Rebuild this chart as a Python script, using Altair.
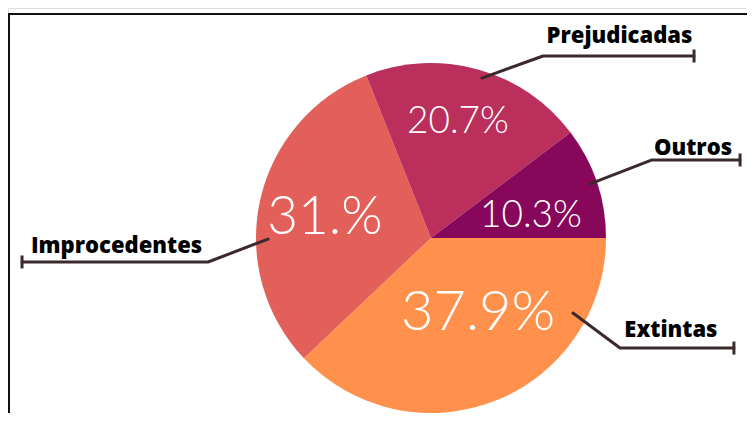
import math
import altair as alt
import pandas as pd

# ---- data ----
categories = ["Extintas", "Improcedentes", "Prejudicadas", "Outros"]
values = [37.9, 31.0, 20.7, 10.3]
pct_labels = ["37.9%", "31.%", "20.7%", "10.3%"]
colors = ["#FF914D", "#E35F59", "#BA2F5B", "#87085A"]

# ---- layout (units: pie radius, origin at pie centre) ----
W, H = 739, 405
CX, CY, R = 423, 230, 175
x_dom = [-CX / R, (W - CX) / R]
y_dom = [-(H - CY) / R, CY / R]

pct_x = [0.269, -0.606, 0.154, 0.571]
pct_y = [-0.526, 0.023, 0.600, 0.063]
pct_size = [56, 53, 37, 37]

lead_anchor = [(0.811, -0.429), (-0.931, -0.006), (0.291, 0.914), (0.909, 0.309)]
lead_elbow = [(1.080, -0.629), (-1.274, -0.137), (0.640, 1.040), (1.263, 0.446)]
lead_end = [(1.731, -0.629), (-2.337, -0.137), (1.503, 1.040), (1.766, 0.446)]
name_xy = [(1.371, -0.566), (-1.797, -0.086), (1.077, 1.114), (1.497, 0.474)]

pie_df = pd.DataFrame({"cat": categories, "value": values, "idx": range(4)})

xs = alt.Scale(domain=x_dom, nice=False, zero=False)
ys = alt.Scale(domain=y_dom, nice=False, zero=False)

pie = alt.Chart(pie_df).mark_arc(outerRadius=R).encode(
    theta=alt.Theta("value:Q", stack=True,
                    scale=alt.Scale(range=[math.pi / 2, math.pi / 2 + 2 * math.pi])),
    order=alt.Order("idx:Q"),
    color=alt.Color("cat:N", scale=alt.Scale(domain=categories, range=colors), legend=None),
    x=alt.value(CX),
    y=alt.value(CY),
)

pct_df = pd.DataFrame({"t": pct_labels, "x": pct_x, "y": pct_y, "s": pct_size})
pct = alt.Chart(pct_df).mark_text(
    color="white", font="Lato", fontWeight=300, align="center", baseline="alphabetic"
).encode(
    x=alt.X("x:Q", scale=xs, axis=None),
    y=alt.Y("y:Q", scale=ys, axis=None),
    text="t:N",
    size=alt.Size("s:Q", scale=None, legend=None),
)

rows = []
for c, a, e, n in zip(categories, lead_anchor, lead_elbow, lead_end):
    for k, p in enumerate([a, e, n]):
        rows.append({"cat": c, "k": k, "x": p[0], "y": p[1]})
lead_df = pd.DataFrame(rows)
leaders = alt.Chart(lead_df).mark_line(
    color="#3B2A2C", strokeWidth=3, strokeCap="round", strokeJoin="round"
).encode(
    x=alt.X("x:Q", scale=xs, axis=None),
    y=alt.Y("y:Q", scale=ys, axis=None),
    detail="cat:N",
    order="k:Q",
)

end_df = pd.DataFrame({"cat": categories, "x": [p[0] for p in lead_end], "y": [p[1] for p in lead_end]})
ticks = alt.Chart(end_df).mark_tick(
    orient="vertical", size=13, thickness=3, color="#3B2A2C", opacity=1
).encode(
    x=alt.X("x:Q", scale=xs, axis=None),
    y=alt.Y("y:Q", scale=ys, axis=None),
)

name_df = pd.DataFrame({"t": categories, "x": [p[0] for p in name_xy], "y": [p[1] for p in name_xy]})
names = alt.Chart(name_df).mark_text(
    color="black", font="Open Sans", fontWeight=800, fontSize=22,
    align="center", baseline="alphabetic"
).encode(
    x=alt.X("x:Q", scale=xs, axis=None),
    y=alt.Y("y:Q", scale=ys, axis=None),
    text="t:N",
)

frame_top = alt.Chart(pd.DataFrame({"a": [0]})).mark_rule(color="#111111", strokeWidth=2).encode(
    x=alt.value(0), x2=alt.value(W), y=alt.value(6)
)
frame_left = alt.Chart(pd.DataFrame({"a": [0]})).mark_rule(color="#111111", strokeWidth=2).encode(
    x=alt.value(1), y=alt.value(6), y2=alt.value(H)
)

chart = alt.layer(pie, leaders, ticks, pct, names, frame_top, frame_left).properties(
    width=W, height=H, autosize=alt.AutoSizeParams(type="none"), padding=0
).configure_view(stroke=None).configure(background="white")

chart.save("out.html", embed_options={"renderer": "svg", "actions": False})
